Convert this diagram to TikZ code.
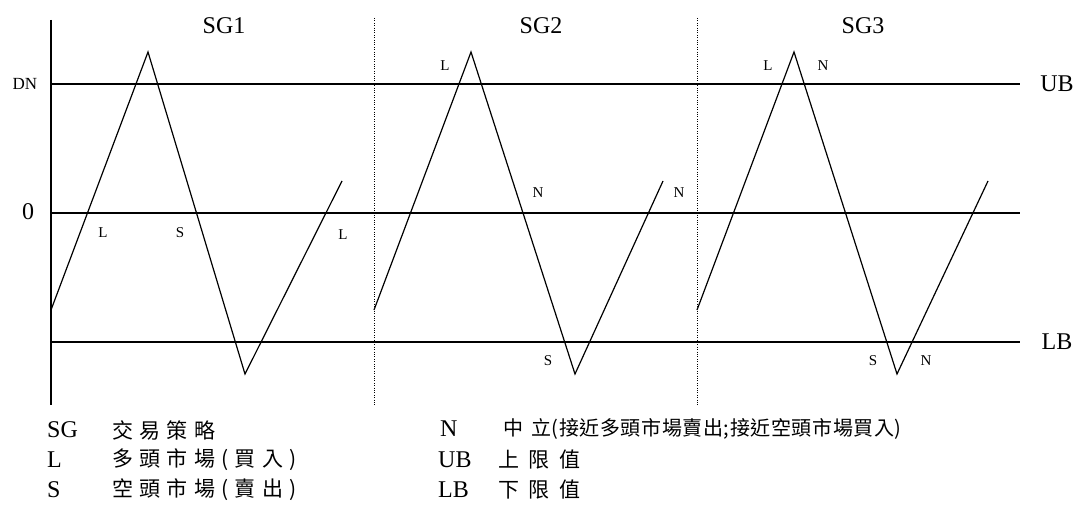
\documentclass[tikz,border=0pt]{standalone}
\usepackage{fontspec}
\setmainfont{Liberation Serif}
\newfontfamily\cjk{Noto Sans CJK TC}
\usepackage{tikz}

\tikzset{
  tag/.style={font=\fontsize{15}{15}\selectfont, inner sep=0pt},
  head/.style={font=\fontsize{24}{24}\selectfont, inner sep=0pt},
  key/.style={font=\fontsize{24}{24}\selectfont, inner sep=0pt, anchor=west},
  keytext/.style 2 args={font=\fontsize{#1}{#1}\selectfont\cjk\addfontfeature{LetterSpace=#2},
    inner sep=0pt, anchor=west},
  level/.style={line width=1.1pt},
  axis/.style={line width=1.5pt},
  zig/.style={line width=1.2pt, line join=miter},
  split/.style={line width=0.8pt, dash pattern=on 0.8pt off 1.6pt},
}

\begin{document}
\begin{tikzpicture}[x=1pt,y=-1pt]
    \useasboundingbox (0,0) rectangle (1081,508);
    % frame
    \coordinate (top) at (51,20);
    \coordinate (bot) at (51,405);
    \coordinate (ubL) at (51,84);   \coordinate (ubR) at (1020,84);
    \coordinate (zL) at (51,213);   \coordinate (zR) at (1020,213);
    \coordinate (lbL) at (51,342);  \coordinate (lbR) at (1020,342);
    \coordinate (s1t) at (374,18);  \coordinate (s1b) at (374,405);
    \coordinate (s2t) at (697,18);  \coordinate (s2b) at (697,405);
    \draw[axis] (top) -- (bot);
    \draw[level] (ubL) -- (ubR);
    \draw[level] (zL) -- (zR);
    \draw[level] (lbL) -- (lbR);
    \draw[split] (s1t) -- (s1b);
    \draw[split] (s2t) -- (s2b);

    % zigzags
    \coordinate (a1) at (51,310);  \coordinate (a2) at (148,52);
    \coordinate (a3) at (245,374); \coordinate (a4) at (342,181);
    \coordinate (b1) at (374,310); \coordinate (b2) at (471,52);
    \coordinate (b3) at (575,374); \coordinate (b4) at (663,181);
    \coordinate (c1) at (697,310); \coordinate (c2) at (794,52);
    \coordinate (c3) at (897,374); \coordinate (c4) at (988,181);
    \draw[zig] (a1) -- (a2) -- (a3) -- (a4);
    \draw[zig] (b1) -- (b2) -- (b3) -- (b4);
    \draw[zig] (c1) -- (c2) -- (c3) -- (c4);

    \node[head] (sg1) at (224,26) {SG1};
    \node[head] (sg2) at (541,26) {SG2};
    \node[head] (sg3) at (863,26) {SG3};
    \node[font=\fontsize{17}{17}\selectfont, inner sep=0pt] (dn) at (25,84) {DN};
    \node[head] (zero) at (28,212) {0};
    \node[head] (ub) at (1057,84) {UB};
    \node[head] (lb) at (1057,342) {LB};

    \node[tag] (aL) at (103,233) {L};
    \node[tag] (aS) at (180,233) {S};
    \node[tag] (aL2) at (343,235) {L};
    \node[tag] (bL) at (445,66) {L};
    \node[tag] (bN) at (538,193) {N};
    \node[tag] (bN2) at (679,193) {N};
    \node[tag] (bS) at (548,361) {S};
    \node[tag] (cL) at (768,66) {L};
    \node[tag] (cN) at (823,66) {N};
    \node[tag] (cS) at (873,361) {S};
    \node[tag] (cN2) at (926,361) {N};

    % legend
    \node[key] (kSG) at (47,430) {SG};
    \node[key] (kL) at (47,460) {L};
    \node[key] (kS) at (47,490) {S};
    \node[keytext={21}{30}] (tSG) at (112,430) {交易策略};
    \node[keytext={21}{30}] (tL) at (112,460) {多頭市場(買入)};
    \node[keytext={21}{30}] (tS) at (112,490) {空頭市場(賣出)};
    \node[key] (kN) at (440,429) {N};
    \node[key] (kUB) at (438,460) {UB};
    \node[key] (kLB) at (438,490) {LB};
    \node[keytext={20}{3}] (tN) at (503,429) {中\kern8pt 立(接近多頭市場賣出;接近空頭市場買入)};
    \node[keytext={21}{45}] (tUB) at (498,460) {上限值};
    \node[keytext={21}{45}] (tLB) at (498,490) {下限值};
\end{tikzpicture}
\end{document}
